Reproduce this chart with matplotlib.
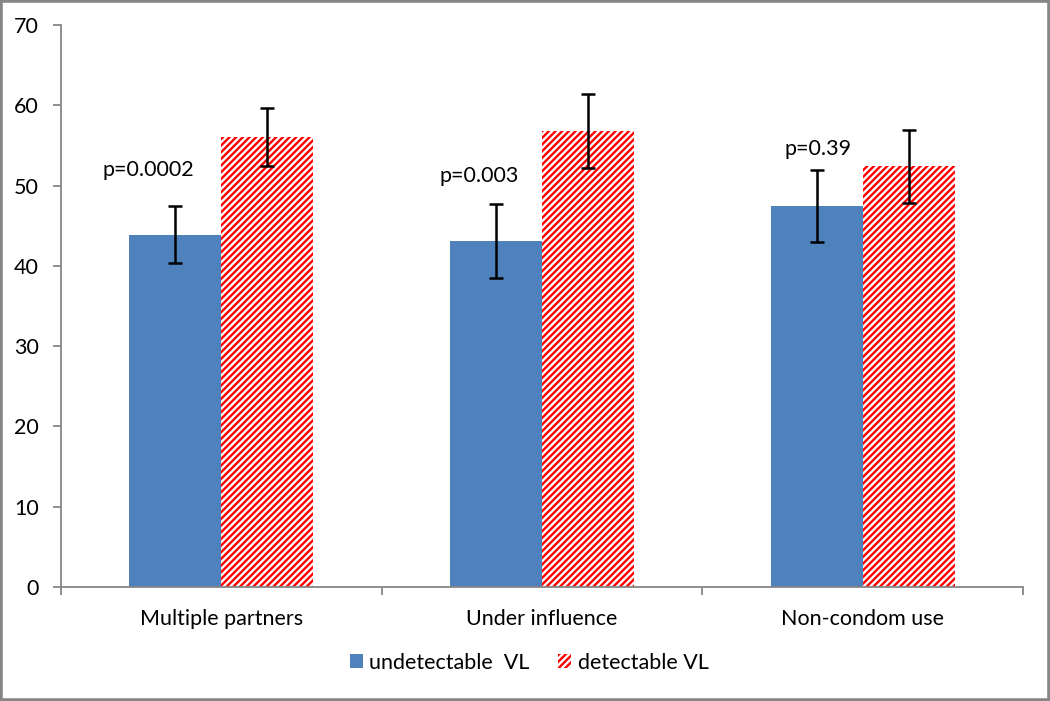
import matplotlib
matplotlib.use("Agg")
import matplotlib.pyplot as plt
from matplotlib.patches import Rectangle, Patch
import numpy as np

categories = ["Multiple partners", "Under influence", "Non-condom use"]
undetectable = [43.9, 43.1, 47.5]
undetectable_err = [3.55, 4.6, 4.5]
detectable = [56.1, 56.8, 52.4]
detectable_err = [3.6, 4.6, 4.55]
p_labels = ["p=0.0002", "p=0.003", "p=0.39"]
p_label_y = [52.0, 51.2, 54.5]
p_label_dx = [-0.228, -0.195, -0.14]
series_names = ["undetectable  VL", "detectable VL"]

plt.rcParams['font.family'] = ['Lato', 'DejaVu Sans']
plt.rcParams['hatch.linewidth'] = 1.7

fig = plt.figure(figsize=(10.5, 7.01), dpi=100)
ax = fig.add_axes([61/1050, 1-587/701, (1023-61)/1050, (587-25)/701])

x = np.arange(len(categories))
w = 0.287
blue = '#4f81bd'
gray = '#868686'
fs = 15.5
ax.bar(x - w/2, undetectable, w, color=blue, linewidth=0, zorder=2)
ax.bar(x + w/2, detectable, w, color='white', edgecolor='#ff0000', hatch='/////', linewidth=0, zorder=2)
ekw = dict(fmt='none', ecolor='black', elinewidth=1.8, capsize=5, capthick=1.8, zorder=3)
ax.errorbar(x - w/2, undetectable, yerr=undetectable_err, **ekw)
ax.errorbar(x + w/2, detectable, yerr=detectable_err, **ekw)

for i, t in enumerate(p_labels):
    ax.text(x[i] + p_label_dx[i], p_label_y[i], t, ha='center', va='center', fontsize=fs, color='black')

ax.set_xlim(-0.5, 2.5)
ax.set_ylim(0, 70)
ax.set_yticks(np.arange(0, 71, 10))
ax.set_xticks(x)
ax.set_xticklabels(categories)
ax.set_xticks(np.arange(-0.5, 2.6, 1.0), minor=True)
ax.tick_params(axis='x', which='major', length=0, pad=16, labelsize=fs)
ax.tick_params(axis='x', which='minor', length=6, width=1.3, color=gray, direction='out')
ax.tick_params(axis='y', length=6, width=1.3, color=gray, direction='out', pad=10, labelsize=fs)
for s in ['top', 'right']:
    ax.spines[s].set_visible(False)
for s in ['left', 'bottom']:
    ax.spines[s].set_color(gray)
    ax.spines[s].set_linewidth(1.3)

handles = [Patch(facecolor=blue, linewidth=0),
           Patch(facecolor='white', edgecolor='#ff0000', hatch='/////', linewidth=0)]
fig.legend(handles, series_names, loc='center', bbox_to_anchor=(529/1050, 1-663/701),
           ncol=2, frameon=False, fontsize=fs, handlelength=0.62, handleheight=0.62,
           handletextpad=0.3, columnspacing=1.3)

fig.patches.append(Rectangle((0, 0), 1, 1, transform=fig.transFigure, fill=False,
                             edgecolor=gray, linewidth=4, zorder=10))

fig.savefig("out.png", dpi=100)
